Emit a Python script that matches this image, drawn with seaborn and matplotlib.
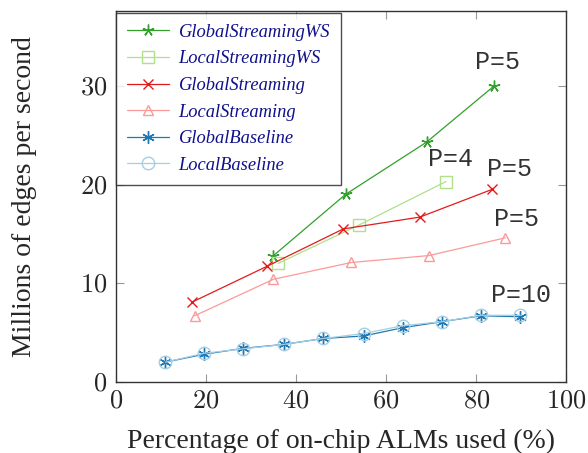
import pandas as pd
import seaborn as sns
import matplotlib.pyplot as plt

# Data
gsws_x = [35, 51, 69, 84]
gsws_y = [12.8, 19.0, 24.3, 30.0]
lsws_x = [36, 54, 73.3]
lsws_y = [12.0, 15.9, 20.3]
gs_x = [17, 33.5, 50.5, 67.5, 83.5]
gs_y = [8.1, 11.7, 15.5, 16.7, 19.5]
ls_x = [17.5, 35, 52.3, 69.5, 86.5]
ls_y = [6.7, 10.4, 12.1, 12.8, 14.6]
gb_x = [11, 19.6, 28.3, 37.3, 46.1, 55, 63.8, 72.4, 81.1, 89.8]
gb_y = [2.0, 2.8, 3.4, 3.8, 4.4, 4.65, 5.5, 6.1, 6.7, 6.6]
lb_x = [11, 19.6, 28.3, 37.3, 46.1, 55, 63.8, 72.4, 81.1, 89.8]
lb_y = [2.0, 2.9, 3.35, 3.8, 4.4, 4.9, 5.7, 6.1, 6.75, 6.75]

names = ['GlobalStreamingWS', 'LocalStreamingWS', 'GlobalStreaming',
         'LocalStreaming', 'GlobalBaseline', 'LocalBaseline']
xs = [gsws_x, lsws_x, gs_x, ls_x, gb_x, lb_x]
ys = [gsws_y, lsws_y, gs_y, ls_y, gb_y, lb_y]

# P labels at the end of some series
p_labels = {'GlobalStreamingWS': 'P=5', 'LocalStreamingWS': 'P=4',
            'GlobalStreaming': 'P=5', 'LocalStreaming': 'P=5',
            'GlobalBaseline': 'P=10'}
p_offsets = {'GlobalStreamingWS': (3, 24), 'LocalStreamingWS': (5, 23),
             'GlobalStreaming': (18, 20), 'LocalStreaming': (11, 19),
             'GlobalBaseline': (1, 22)}

pal = sns.color_palette('Paired')
colors = {'GlobalStreamingWS': pal[3], 'LocalStreamingWS': pal[2],
          'GlobalStreaming': pal[5], 'LocalStreaming': pal[4],
          'GlobalBaseline': pal[1], 'LocalBaseline': pal[0]}
markers = {'GlobalStreamingWS': (5, 2, 0), 'LocalStreamingWS': 's',
           'GlobalStreaming': 'x', 'LocalStreaming': '^',
           'GlobalBaseline': (6, 2, 0), 'LocalBaseline': 'o'}
msizes = {'GlobalStreamingWS': 8.5, 'LocalStreamingWS': 8, 'GlobalStreaming': 7,
          'LocalStreaming': 7, 'GlobalBaseline': 9, 'LocalBaseline': 9}

sns.set_style('ticks')
plt.rcParams['font.family'] = ['Liberation Serif', 'DejaVu Serif']
plt.rcParams['mathtext.fontset'] = 'cm'

fig = plt.figure(figsize=(5.88, 4.53), dpi=100)
ax = fig.add_axes([0.197, 0.157, 0.766, 0.819])

for name, x, y in zip(names, xs, ys):
    df = pd.DataFrame({'x': x, 'y': y})
    sns.lineplot(data=df, x='x', y='y', ax=ax, sort=False, label=name,
                 color=colors[name], linewidth=0.9, marker=markers[name],
                 markersize=msizes[name], markerfacecolor='none',
                 markeredgecolor=colors[name], markeredgewidth=1.0)
    if name in p_labels:
        ax.annotate(p_labels[name], xy=(x[-1], y[-1]), xytext=p_offsets[name],
                    textcoords='offset pixels', ha='center', va='center',
                    fontsize=18, family='Liberation Mono', color='#333333')

ax.set_xlim(0, 100)
ax.set_ylim(0, 37.6)
ax.set_xticks([0, 20, 40, 60, 80, 100])
ax.set_yticks([0, 10, 20, 30])
ax.set_xticklabels(['$%d$' % v for v in [0, 20, 40, 60, 80, 100]])
ax.set_yticklabels(['$%d$' % v for v in [0, 10, 20, 30]])
ax.tick_params(direction='in', length=6, width=0.8, color='#999999',
               labelsize=19, top=True, right=True, pad=6)
for s in ax.spines.values():
    s.set_color('#333333')
    s.set_linewidth(1.0)

ax.set_xlabel('Percentage of on-chip ALMs used (%)', fontsize=20, labelpad=12)
ax.set_ylabel('Millions of edges per second', fontsize=20, labelpad=31)

leg = ax.legend(loc='upper left', bbox_to_anchor=(-0.004, 1.0),
                frameon=True, fancybox=False, edgecolor='#222222',
                handlelength=2.3, handletextpad=0.5, borderpad=0.6,
                borderaxespad=0.1, labelspacing=0.52,
                prop={'style': 'italic', 'size': 13.3})
leg.get_frame().set_linewidth(1.0)
for t in leg.get_texts():
    t.set_color('#10108c')

fig.savefig('out.png', dpi=100)
